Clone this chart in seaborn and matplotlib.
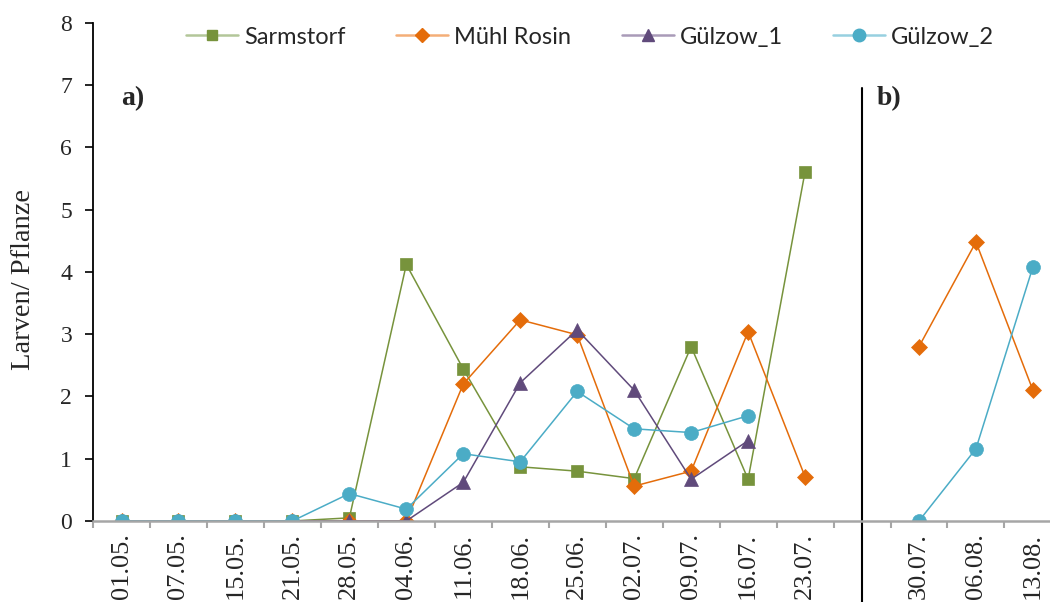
import numpy as np
import pandas as pd
import matplotlib.pyplot as plt
import seaborn as sns
from matplotlib.lines import Line2D

nan = np.nan

# sampling dates (empty slot separates part a) and b))
dates = ['01.05.', '07.05.', '15.05.', '21.05.', '28.05.', '04.06.', '11.06.',
         '18.06.', '25.06.', '02.07.', '09.07.', '16.07.', '23.07.', '',
         '30.07.', '06.08.', '13.08.']

sarmstorf = [0, 0, 0, 0, 0.05, 4.12, 2.44, 0.87, 0.80, 0.68, 2.80, 0.67, 5.61,
             nan, nan, nan, nan]
muehl_rosin = [0, 0, 0, 0, 0, 0, 2.20, 3.23, 2.99, 0.56, 0.80, 3.04, 0.71,
               nan, 2.80, 4.48, 2.10]
guelzow_1 = [0, 0, 0, 0, 0, 0, 0.62, 2.22, 3.07, 2.10, 0.67, 1.29, nan,
             nan, nan, nan, nan]
guelzow_2 = [0, 0, 0, 0, 0.44, 0.19, 1.08, 0.95, 2.08, 1.48, 1.42, 1.69, nan,
             nan, 0, 1.16, 4.08]

series = [
    ('Sarmstorf', sarmstorf, '#77933C', '#B3C699', 's', 8),
    ('Mühl Rosin', muehl_rosin, '#E46C0A', '#F4AE78', 'D', 8),
    ('Gülzow_1', guelzow_1, '#604A7B', '#A99BB8', '^', 10),
    ('Gülzow_2', guelzow_2, '#4BACC6', '#97D0E0', 'o', 10),
]

sns.set_style("white")
plt.rcParams['font.family'] = ['Liberation Serif', 'DejaVu Serif']

fig = plt.figure(figsize=(10.5, 6.02), dpi=100)
ax = fig.add_axes([0.0886, 0.1346, 0.9114, 0.8274])

handles = []
for name, vals, color, pale, marker, ms in series:
    df = pd.DataFrame({'pos': np.arange(len(dates)), 'value': vals})
    # break the line wherever a value is missing
    df['seg'] = df['value'].isna().cumsum()
    df = df.dropna()
    sns.lineplot(data=df, x='pos', y='value', units='seg', estimator=None,
                 color=color, marker=marker, markersize=ms, linewidth=1.1,
                 markeredgecolor=color, markeredgewidth=0.5, ax=ax)
    handles.append(Line2D([], [], color=pale, linewidth=1.8, marker=marker,
                          markersize=ms * 0.9, markerfacecolor=color,
                          markeredgecolor=color, label=name))

ax.set_xlabel('')
ax.set_ylabel('')

ax.set_yticks(range(9))
ax.tick_params(axis='y', which='major', direction='out', length=6, width=1.2,
               color='black', labelsize=17, pad=9, left=True)

ax.set_xticks(range(len(dates)))
ax.set_xticklabels(dates, rotation=90)
ax.set_xticks(np.arange(-0.5, len(dates), 1), minor=True)
ax.tick_params(axis='x', which='major', length=0, labelsize=19, pad=9)
ax.tick_params(axis='x', which='minor', direction='out', length=5, width=1.5,
               color='#A6A6A6', bottom=True)

ax.set_xlim(-0.5, 16.3)
ax.set_ylim(0, 8)

for side in ['top', 'right']:
    ax.spines[side].set_visible(False)
ax.spines['left'].set_color('black')
ax.spines['left'].set_linewidth(1.3)
ax.spines['bottom'].set_color('#A6A6A6')
ax.spines['bottom'].set_linewidth(1.8)

# separator between part a) and b)
ax.plot([13, 13], [-1.4, 6.96], color='black', linewidth=1.5, clip_on=False)

ax.text(0.0, 6.78, 'a)', fontsize=20, fontweight='bold', ha='left', va='center')
ax.text(13.25, 6.78, 'b)', fontsize=20, fontweight='bold', ha='left', va='center')

fig.text(0.022, 0.535, 'Larven/ Pflanze', rotation=90, fontsize=20.5,
         ha='center', va='center')

fig.legend(handles=handles, loc='center', bbox_to_anchor=(0.562, 0.9385),
           ncol=4, frameon=False, handlelength=2.2, handletextpad=0.25,
           columnspacing=2.15, prop={'family': 'Lato', 'size': 17})

fig.savefig('out.png', dpi=100)
